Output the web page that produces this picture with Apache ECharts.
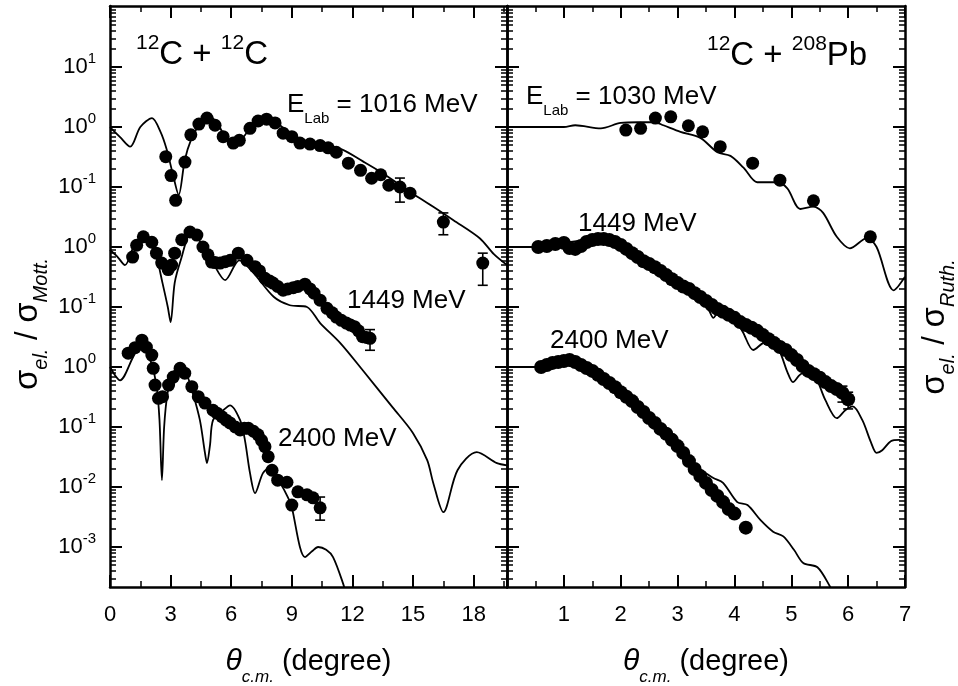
<!DOCTYPE html>
<html><head><meta charset="utf-8">
<script src="https://cdn.jsdelivr.net/npm/echarts@6/dist/echarts.min.js"></script>
<style>html,body{margin:0;padding:0;background:#fff}#c{width:958px;height:686px}</style>
</head><body><div id="c"></div>
<script>
const FONT = "'Liberation Sans', Arial, Helvetica, sans-serif";

// ---------- 12C + 12C, E = 1016 MeV (true scale) ----------
const c1016CurveTheta = [0, 0.5, 1.0, 1.5, 2.08, 2.5, 2.8, 3.1, 3.4, 3.7, 4.0, 4.46, 4.85, 5.3, 5.7, 6.1, 6.6, 7.1, 7.6, 8.2, 8.9, 9.6, 10.4, 11.5, 12.5, 13.5, 14.5, 15.3, 16.0, 17.0, 18.3, 19.0, 19.65];
const c1016CurveVal   = [1.0, 0.68, 0.47, 1.0, 1.41, 0.83, 0.43, 0.17, 0.074, 0.28, 0.6, 1.17, 1.58, 1.17, 0.69, 0.54, 0.68, 1.17, 1.41, 1.2, 0.79, 0.6, 0.54, 0.42, 0.27, 0.17, 0.1, 0.066, 0.047, 0.028, 0.014, 0.0076, 0.005];
const c1016PtsTheta = [2.76, 3.02, 3.25, 3.71, 4.0, 4.4, 4.8, 5.2, 5.6, 6.1, 6.4, 6.93, 7.33, 7.75, 8.17, 8.57, 9.0, 9.4, 9.9, 10.4, 10.8, 11.2, 11.8, 12.4, 12.95, 13.4, 13.8, 14.35, 14.85, 16.5, 18.45];
const c1016PtsVal   = [0.32, 0.155, 0.06, 0.26, 0.74, 1.12, 1.41, 1.07, 0.69, 0.54, 0.6, 0.95, 1.26, 1.35, 1.17, 0.79, 0.69, 0.54, 0.52, 0.49, 0.45, 0.38, 0.25, 0.19, 0.14, 0.16, 0.107, 0.1, 0.079, 0.026, 0.0054];
const c1016ErrTheta = [14.35, 16.5, 18.45];
const c1016ErrLow   = [0.056, 0.016, 0.0023];
const c1016ErrHigh  = [0.141, 0.037, 0.0079];

// ---------- 12C + 12C, 1449 MeV ----------
const c1449CurveTheta = [0, 0.35, 0.74, 1.2, 1.6, 2.0, 2.3, 2.6, 2.86, 3.0, 3.2, 3.5, 4.05, 4.5, 5.1, 5.7, 6.4, 7.1, 8.1, 8.9, 9.75, 10.4, 11.4, 12.5, 14.0, 15.0, 15.7, 16.0, 16.5, 17.2, 18.15, 19.15, 19.65];
const c1449CurveVal   = [0.89, 0.7, 0.5, 1.07, 1.41, 1.1, 0.68, 0.25, 0.1, 0.056, 0.25, 0.6, 1.9, 1.17, 0.54, 0.28, 0.6, 0.37, 0.148, 0.107, 0.1, 0.054, 0.025, 0.0089, 0.0021, 0.00079, 0.00028, 0.000117, 0.000038, 0.00019, 0.00038, 0.00025, 0.00023];
const c1449PtsTheta = [1.12, 1.32, 1.65, 2.07, 2.3, 2.56, 2.88, 3.05, 3.2, 3.55, 3.96, 4.3, 4.6, 4.85, 5.03, 5.2, 5.45, 5.7, 5.95, 6.35, 6.78, 7.18, 7.4, 7.67, 7.9, 8.07, 8.3, 8.57, 8.8, 9.07, 9.3, 9.65, 9.9, 10.1, 10.4, 10.74, 11.0, 11.2, 11.45, 11.7, 11.9, 12.1, 12.3, 12.5, 12.7, 12.87];
const c1449PtsVal   = [0.68, 1.07, 1.48, 1.2, 0.79, 0.54, 0.42, 0.5, 0.79, 1.32, 1.78, 1.58, 1.0, 0.74, 0.56, 0.55, 0.54, 0.57, 0.6, 0.79, 0.6, 0.47, 0.4, 0.3, 0.27, 0.25, 0.22, 0.19, 0.2, 0.21, 0.22, 0.24, 0.2, 0.17, 0.13, 0.095, 0.08, 0.068, 0.06, 0.054, 0.05, 0.047, 0.04, 0.032, 0.031, 0.03];
const c1449ErrTheta = [12.87];
const c1449ErrLow   = [0.019];
const c1449ErrHigh  = [0.042];

// ---------- 12C + 12C, 2400 MeV ----------
const c2400CurveTheta = [0, 0.5, 1.15, 1.58, 2.0, 2.3, 2.45, 2.57, 2.68, 2.85, 3.1, 3.47, 3.8, 4.1, 4.45, 4.7, 4.8, 4.95, 5.1, 5.6, 5.94, 6.44, 6.68, 6.93, 7.18, 7.57, 7.92, 8.42, 8.8, 9.0, 9.4, 9.65, 10.0, 10.3, 10.7, 11.04, 11.53, 11.8];
const c2400CurveVal   = [1.0, 0.6, 1.48, 2.6, 1.3, 0.5, 0.13, 0.013, 0.1, 0.37, 0.75, 1.17, 0.75, 0.37, 0.13, 0.037, 0.025, 0.05, 0.13, 0.19, 0.23, 0.13, 0.06, 0.017, 0.0079, 0.017, 0.021, 0.0117, 0.0068, 0.0046, 0.001, 0.00068, 0.00085, 0.001, 0.0009, 0.00068, 0.00025, 0.00012];
const c2400PtsTheta = [0.9, 1.24, 1.58, 1.8, 2.07, 2.14, 2.23, 2.4, 2.6, 2.9, 3.13, 3.47, 3.7, 4.05, 4.37, 4.7, 5.1, 5.3, 5.54, 5.75, 5.94, 6.2, 6.44, 6.65, 6.85, 7.1, 7.33, 7.5, 7.67, 7.83, 8.02, 8.3, 8.76, 9.0, 9.3, 9.75, 10.05, 10.4];
const c2400PtsVal   = [1.7, 2.1, 2.8, 2.14, 1.58, 0.95, 0.5, 0.3, 0.32, 0.5, 0.68, 0.95, 0.79, 0.47, 0.32, 0.25, 0.19, 0.17, 0.148, 0.13, 0.117, 0.1, 0.089, 0.095, 0.095, 0.085, 0.074, 0.06, 0.047, 0.032, 0.019, 0.013, 0.012, 0.005, 0.0083, 0.0074, 0.0066, 0.0045];
const c2400ErrTheta = [10.4];
const c2400ErrLow   = [0.0028];
const c2400ErrHigh  = [0.0068];

// ---------- 12C + 208Pb, 1030 MeV (true scale) ----------
const p1030CurveTheta = [0, 0.5, 1.0, 1.2, 1.65, 2.0, 2.3, 2.6, 2.75, 3.05, 3.4, 3.7, 3.93, 4.16, 4.4, 4.6, 4.75, 4.93, 5.16, 5.39, 5.56, 5.8, 6.03, 6.33, 6.5, 6.8, 7.0];
const p1030CurveVal   = [1.0, 1.0, 1.0, 1.07, 0.95, 1.17, 1.2, 1.2, 1.07, 0.83, 0.66, 0.38, 0.33, 0.21, 0.12, 0.12, 0.12, 0.095, 0.043, 0.047, 0.037, 0.0148, 0.0095, 0.0141, 0.01, 0.0019, 0.0032];
const p1030PtsTheta = [2.09, 2.35, 2.61, 2.88, 3.19, 3.44, 3.75, 4.32, 4.8, 5.39, 6.39];
const p1030PtsVal   = [0.89, 0.95, 1.41, 1.48, 1.05, 0.83, 0.47, 0.25, 0.13, 0.059, 0.0148];

// ---------- 12C + 208Pb, 1449 MeV ----------
const p1449CurveTheta = [0, 0.55, 1.0, 1.5, 1.8, 2.1, 2.5, 3.0, 3.4, 3.55, 3.63, 3.72, 3.85, 4.0, 4.15, 4.33, 4.5, 4.65, 4.8, 4.93, 5.03, 5.15, 5.3, 5.45, 5.6, 5.8, 5.95, 6.08, 6.25, 6.4, 6.5, 6.6, 6.75, 6.9, 7.0];
const p1449CurveVal   = [1.0, 1.0, 1.17, 1.31, 1.31, 0.93, 0.52, 0.25, 0.141, 0.089, 0.066, 0.083, 0.089, 0.066, 0.038, 0.0192, 0.025, 0.028, 0.0178, 0.0083, 0.0056, 0.0074, 0.0089, 0.0061, 0.0028, 0.0014, 0.0019, 0.0022, 0.0013, 0.00056, 0.00037, 0.00041, 0.00058, 0.00061, 0.00056];
const p1449PtsTheta = [0.55, 0.7, 0.85, 1.0, 1.1, 1.2, 1.3, 1.4, 1.5, 1.6, 1.7, 1.8, 1.9, 2.0, 2.1, 2.2, 2.3, 2.4, 2.5, 2.6, 2.7, 2.8, 2.9, 3.0, 3.1, 3.2, 3.3, 3.4, 3.5, 3.6, 3.7, 3.8, 3.9, 4.0, 4.1, 4.2, 4.3, 4.4, 4.5, 4.6, 4.7, 4.8, 4.9, 5.0, 5.1, 5.2, 5.3, 5.4, 5.5, 5.6, 5.7, 5.8, 5.9, 6.0];
const p1449PtsVal   = [1.0, 1.04, 1.12, 1.17, 0.96, 0.93, 1.04, 1.21, 1.31, 1.36, 1.36, 1.31, 1.21, 1.08, 0.93, 0.79, 0.68, 0.58, 0.52, 0.46, 0.4, 0.34, 0.29, 0.25, 0.22, 0.2, 0.17, 0.147, 0.126, 0.108, 0.093, 0.083, 0.074, 0.066, 0.056, 0.05, 0.045, 0.04, 0.034, 0.029, 0.025, 0.0215, 0.0192, 0.0158, 0.0131, 0.0104, 0.0086, 0.0076, 0.0066, 0.0056, 0.0048, 0.0043, 0.0037, 0.0029];
const p1449ErrTheta = [5.9, 6.0];
const p1449ErrLow   = [0.0026, 0.002];
const p1449ErrHigh  = [0.0048, 0.0038];

// ---------- 12C + 208Pb, 2400 MeV ----------
const p2400CurveTheta = [0, 0.55, 1.0, 1.3, 1.8, 2.2, 2.4, 2.6, 3.0, 3.3, 3.5, 3.63, 3.8, 4.05, 4.23, 4.46, 4.68, 4.86, 5.05, 5.21, 5.46, 5.68, 5.8];
const p2400CurveVal   = [1.0, 1.0, 1.26, 1.12, 0.54, 0.27, 0.165, 0.117, 0.048, 0.023, 0.017, 0.0141, 0.0117, 0.0056, 0.005, 0.0028, 0.0018, 0.0015, 0.00089, 0.00054, 0.00046, 0.00022, 0.00013];
const p2400PtsTheta = [0.6, 0.7, 0.8, 0.9, 1.0, 1.1, 1.2, 1.3, 1.4, 1.5, 1.6, 1.7, 1.8, 1.9, 2.0, 2.1, 2.2, 2.3, 2.4, 2.5, 2.6, 2.7, 2.8, 2.9, 3.0, 3.1, 3.2, 3.3, 3.4, 3.5, 3.6, 3.7, 3.8, 3.9, 4.0, 4.2];
const p2400PtsVal   = [1.0, 1.08, 1.17, 1.21, 1.26, 1.31, 1.21, 1.08, 0.96, 0.86, 0.74, 0.63, 0.54, 0.46, 0.38, 0.32, 0.27, 0.215, 0.178, 0.141, 0.117, 0.093, 0.077, 0.061, 0.048, 0.037, 0.027, 0.02, 0.0152, 0.0117, 0.0089, 0.0071, 0.0056, 0.0043, 0.0036, 0.0021];

// vertical offsets of the stacked data sets
const offset1449 = 1e-2;
const offset2400 = 1e-4;

// axis ticks
const yDecades   = [1, 0, -1, -2, -3, -4, -5, -6, -7];
const yExpLabels = ['1', '0', '-1', '0', '-1', '0', '-1', '-2', '-3'];
const xLeftMajor  = [0, 3, 6, 9, 12, 15, 18];
const xLeftMinor  = [1.5, 4.5, 7.5, 10.5, 13.5, 16.5, 19.5];
const xRightMajor = [0, 1, 2, 3, 4, 5, 6, 7];
const xRightMinor = [0.5, 1.5, 2.5, 3.5, 4.5, 5.5, 6.5];
const xRightLabels = [1, 2, 3, 4, 5, 6, 7];

const Y_MIN = Math.pow(10, -7.667), Y_MAX = Math.pow(10, 2.017);
const majorY = yDecades.map(d => Math.pow(10, d));
const minorY = [];
for (let d = -8; d <= 2; d++) for (let k = 2; k <= 9; k++) { const v = k * Math.pow(10, d); if (v > Y_MIN && v < Y_MAX) minorY.push(v); }

const pairs = (xs, ys, k) => xs.map((x, i) => [x, ys[i] * k]);
const triples = (xs, lo, hi, k) => xs.map((x, i) => [x, lo[i] * k, hi[i] * k]);

function yAx(grid, pos, major, showLabel) {
  return {
    type: 'log', logBase: 10, gridIndex: grid, position: pos, min: Y_MIN, max: Y_MAX,
    axisLine: { show: major, onZero: false, lineStyle: { color: '#000', width: 2.5 } },
    axisTick: { show: true, inside: true, length: major ? 12 : 6, customValues: major ? majorY : minorY,
                lineStyle: { color: '#000', width: major ? 2 : 1.5 } },
    axisLabel: showLabel ? { show: true, customValues: majorY, margin: 14, color: '#000',
      formatter: v => { const d = Math.round(Math.log10(v)); const i = yDecades.indexOf(d); return '{b|10}{s|' + yExpLabels[i] + '}'; },
      rich: { b: { fontSize: 22, fontFamily: FONT, color: '#000' },
              s: { fontSize: 15, fontFamily: FONT, color: '#000', padding: [0, 0, 16, 0] } } } : { show: false },
    splitLine: { show: false }
  };
}
const xNameRich = {
  t: { fontSize: 30, fontFamily: FONT, fontStyle: 'italic', color: '#000' },
  sub: { fontSize: 17, fontFamily: FONT, fontStyle: 'italic', color: '#000', padding: [32, 0, 0, 0] },
  n: { fontSize: 29, fontFamily: FONT, color: '#000' }
};
function xAx(grid, pos, min, max, ticks, major, labels, name) {
  const a = {
    type: 'value', gridIndex: grid, position: pos, min: min, max: max,
    axisLine: { show: major, onZero: false, lineStyle: { color: '#000', width: 2.5 } },
    axisTick: { show: true, inside: true, length: major ? 12 : 6, customValues: ticks,
                lineStyle: { color: '#000', width: major ? 2 : 1.5 } },
    axisLabel: labels ? { show: true, customValues: labels, margin: 17, color: '#000', fontSize: 22, fontFamily: FONT } : { show: false },
    splitLine: { show: false }
  };
  if (name) {
    a.name = name; a.nameLocation = 'middle'; a.nameGap = 50; a.nameTextStyle = { rich: xNameRich };
  }
  return a;
}
const xName = '{t|θ}{sub|c.m.}{n| (degree)}';

const xAxis = [
  xAx(0, 'bottom', 0, 19.65, xLeftMajor, true, xLeftMajor, xName),
  xAx(0, 'bottom', 0, 19.65, xLeftMinor, false),
  xAx(0, 'top', 0, 19.65, xLeftMajor, true),
  xAx(0, 'top', 0, 19.65, xLeftMinor, false),
  xAx(1, 'bottom', 0, 7, xRightMajor, true, xRightLabels, xName),
  xAx(1, 'bottom', 0, 7, xRightMinor, false),
  xAx(1, 'top', 0, 7, xRightMajor, true),
  xAx(1, 'top', 0, 7, xRightMinor, false)
];
const yAxis = [
  yAx(0, 'left', true, true), yAx(0, 'left', false, false),
  yAx(0, 'right', true, false), yAx(0, 'right', false, false),
  yAx(1, 'left', true, false), yAx(1, 'left', false, false),
  yAx(1, 'right', true, false), yAx(1, 'right', false, false)
];

function lineS(xi, data) {
  return { type: 'line', xAxisIndex: xi, yAxisIndex: xi, data: data, smooth: 0.3, showSymbol: false, symbol: 'none',
           lineStyle: { color: '#000', width: 1.8 }, z: 2, clip: true, silent: true };
}
function dotS(xi, data, size) {
  return { type: 'scatter', xAxisIndex: xi, yAxisIndex: xi, data: data, symbol: 'circle', symbolSize: size || 13,
           itemStyle: { color: '#000', opacity: 1 }, z: 3, clip: true, silent: true };
}
function errRender(params, api) {
  const x = api.value(0), lo = api.value(1), hi = api.value(2);
  const p1 = api.coord([x, lo]), p2 = api.coord([x, hi]);
  const w = 5, st = { stroke: '#000', lineWidth: 1.6 };
  return { type: 'group', children: [
    { type: 'line', shape: { x1: p1[0], y1: p1[1], x2: p2[0], y2: p2[1] }, style: st },
    { type: 'line', shape: { x1: p1[0] - w, y1: p1[1], x2: p1[0] + w, y2: p1[1] }, style: st },
    { type: 'line', shape: { x1: p2[0] - w, y1: p2[1], x2: p2[0] + w, y2: p2[1] }, style: st }
  ] };
}
function errS(xi, data) {
  return { type: 'custom', xAxisIndex: xi, yAxisIndex: xi, data: data, renderItem: errRender,
           encode: { x: 0, y: [1, 2] }, z: 3, silent: true };
}

const series = [
  lineS(0, pairs(c1016CurveTheta, c1016CurveVal, 1)),
  dotS(0, pairs(c1016PtsTheta, c1016PtsVal, 1)),
  errS(0, triples(c1016ErrTheta, c1016ErrLow, c1016ErrHigh, 1)),
  lineS(0, pairs(c1449CurveTheta, c1449CurveVal, offset1449)),
  dotS(0, pairs(c1449PtsTheta, c1449PtsVal, offset1449)),
  errS(0, triples(c1449ErrTheta, c1449ErrLow, c1449ErrHigh, offset1449)),
  lineS(0, pairs(c2400CurveTheta, c2400CurveVal, offset2400)),
  dotS(0, pairs(c2400PtsTheta, c2400PtsVal, offset2400)),
  errS(0, triples(c2400ErrTheta, c2400ErrLow, c2400ErrHigh, offset2400)),
  lineS(4, pairs(p1030CurveTheta, p1030CurveVal, 1)),
  dotS(4, pairs(p1030PtsTheta, p1030PtsVal, 1)),
  lineS(4, pairs(p1449CurveTheta, p1449CurveVal, offset1449)),
  dotS(4, pairs(p1449PtsTheta, p1449PtsVal, offset1449), 14),
  errS(4, triples(p1449ErrTheta, p1449ErrLow, p1449ErrHigh, offset1449)),
  lineS(4, pairs(p2400CurveTheta, p2400CurveVal, offset2400)),
  dotS(4, pairs(p2400PtsTheta, p2400PtsVal, offset2400), 14)
];

const annRich = {
  b: { fontSize: 26, fontFamily: FONT, fill: '#000' },
  sub: { fontSize: 15, fontFamily: FONT, fill: '#000', padding: [28, 0, 0, 0] }
};
const titleRich = {
  b: { fontSize: 33, fontFamily: FONT, fill: '#000' },
  sup: { fontSize: 21, fontFamily: FONT, fill: '#000', padding: [0, 0, 24, 0] }
};
const yTitleRich = {
  s: { fontSize: 33, fontFamily: FONT, fill: '#000' },
  n: { fontSize: 31, fontFamily: FONT, fill: '#000' },
  sub: { fontSize: 20, fontFamily: FONT, fontStyle: 'italic', fill: '#000', padding: [26, 0, 0, 0] }
};
function txt(x, y, text, rich, rot, align) {
  return { type: 'text', x: x, y: y, rotation: rot || 0, silent: true,
           style: { text: text, rich: rich, align: align || 'left', verticalAlign: 'middle', fill: '#000', fontSize: 26, fontFamily: FONT } };
}
const graphic = [
  txt(136, 55, '{sup|12}{b|C + }{sup|12}{b|C}', titleRich),
  txt(707, 56, '{sup|12}{b|C + }{sup|208}{b|Pb}', titleRich),
  txt(287, 105, '{b|E}{sub|Lab}{b| = 1016 MeV}', annRich),
  txt(526, 97, '{b|E}{sub|Lab}{b| = 1030 MeV}', annRich),
  txt(347, 301, '{b|1449 MeV}', annRich),
  txt(578, 224, '{b|1449 MeV}', annRich),
  txt(278, 439, '{b|2400 MeV}', annRich),
  txt(550, 341, '{b|2400 MeV}', annRich),
  txt(28, 324, '{s|σ}{sub|el.}{n| / }{s|σ}{sub|Mott.}', yTitleRich, Math.PI / 2, 'center'),
  txt(935, 327, '{s|σ}{sub|el.}{n| / }{s|σ}{sub|Ruth.}', yTitleRich, Math.PI / 2, 'center')
];

const chart = echarts.init(document.getElementById('c'), null, { renderer: 'canvas' });
chart.setOption({
  animation: false,
  backgroundColor: '#fff',
  grid: [
    { left: 110, top: 6, width: 397, height: 581, outerBoundsMode: 'none' },
    { left: 507, top: 6, width: 398, height: 581, outerBoundsMode: 'none' }
  ],
  xAxis: xAxis,
  yAxis: yAxis,
  series: series,
  graphic: graphic
});
</script></body></html>
